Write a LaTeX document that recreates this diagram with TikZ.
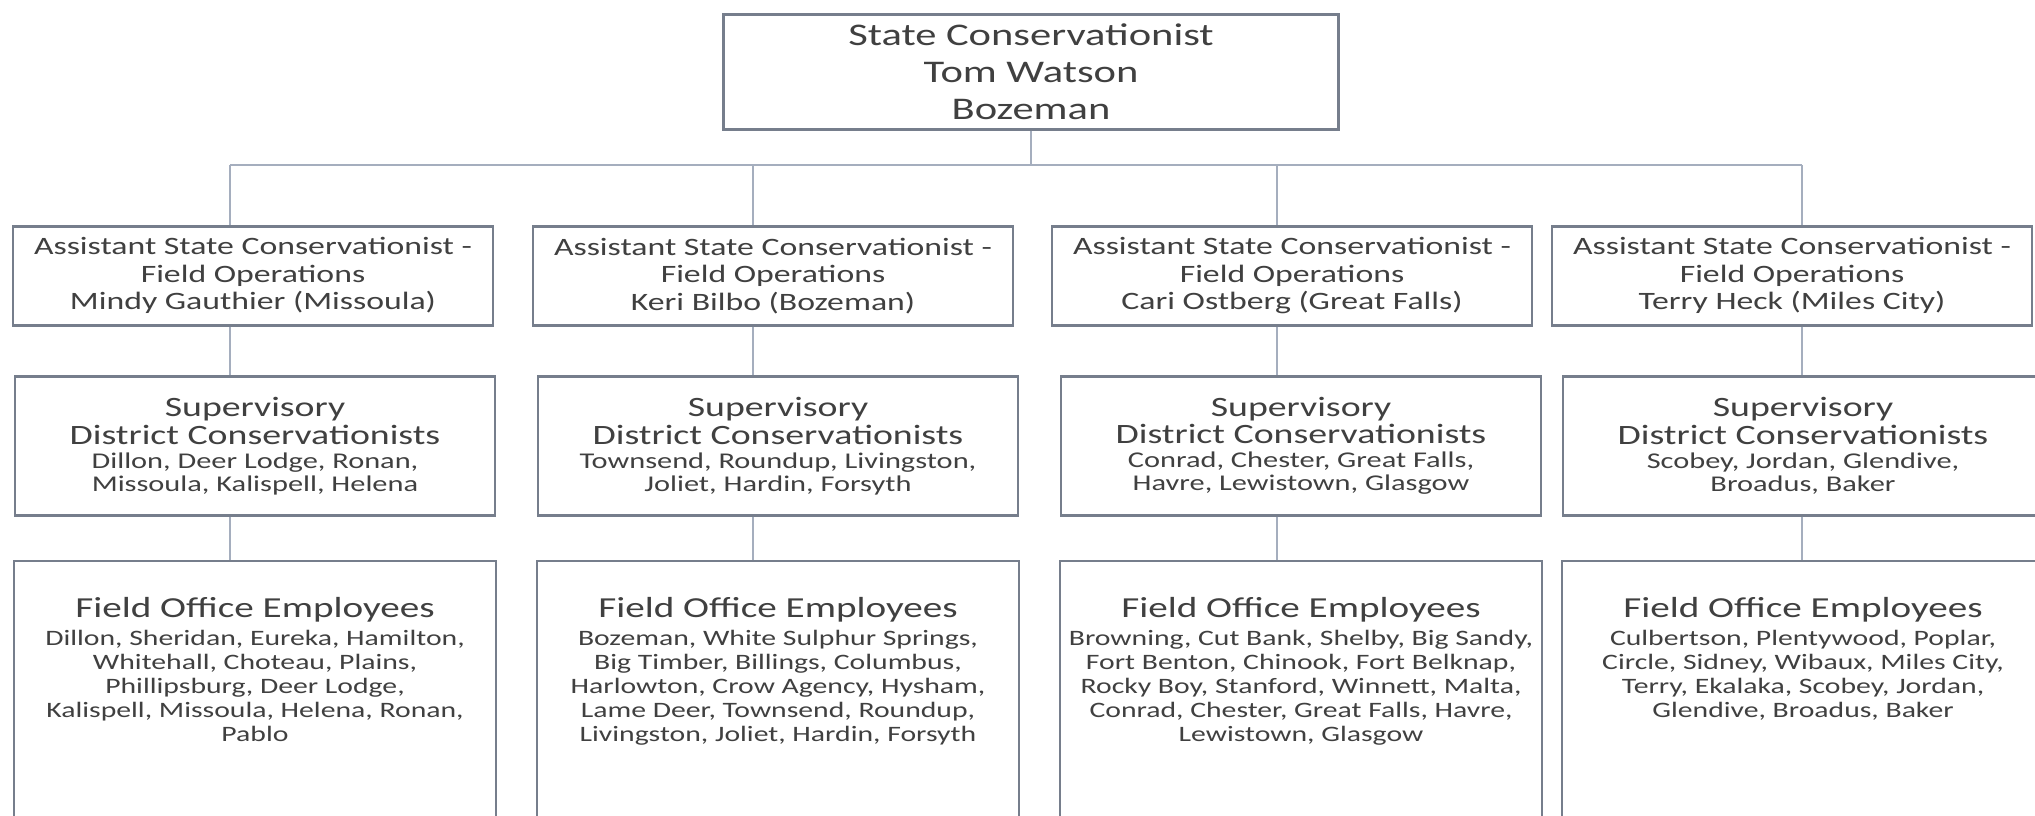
\documentclass[tikz,border=0pt]{standalone}
\usepackage{fontspec}
\setmainfont{Carlito}[FakeStretch=1.35]
\usetikzlibrary{positioning}

\definecolor{boxline}{RGB}{118,126,140}
\definecolor{linkline}{RGB}{165,174,190}
\definecolor{inktext}{RGB}{64,64,64}
\newcommand{\hdr}{\fontsize{28}{31}\selectfont}
\newcommand{\ohdr}{\fontsize{29}{31}\selectfont}
\newcommand{\townfont}{\fontsize{22}{24}\selectfont}
\newcommand{\openend}{\rule[-170pt]{0pt}{0pt}}

\begin{document}
\begin{tikzpicture}[x=1pt, y=-1pt,
                    line width=2.5pt,
                    node distance=43pt,
                    ]
    \tikzstyle{unit}=[rectangle, draw=boxline, fill=white, text=inktext, align=center, anchor=north, inner xsep=4pt]
    \tikzstyle{chief}=[unit, minimum width=615pt, minimum height=115pt, font=\fontsize{31.5}{37}\selectfont]
    \tikzstyle{assistant}=[unit, minimum width=480pt, minimum height=99pt, font=\fontsize{25}{27.5}\selectfont]
    \tikzstyle{supervisor}=[unit, minimum width=480pt, minimum height=139pt, font=\fontsize{22.5}{23}\selectfont]
    \tikzstyle{office}=[unit, minimum width=482pt, inner ysep=37pt, font=\townfont]
    \tikzstyle{link}=[draw=linkline, line width=2pt]

    \fill[white] (0,0) rectangle (2035,815);
    \clip (0,0) rectangle (2035,815);

    \node[chief] (sc) at (1031,13) {State Conservationist\\Tom Watson\\Bozeman};

    \node[assistant] (asa) at (253,225) {Assistant State Conservationist -\\Field Operations\\Mindy Gauthier (Missoula)};
    \node[assistant] (asb) at (773,225) {Assistant State Conservationist -\\Field Operations\\Keri Bilbo (Bozeman)};
    \node[assistant] (asc) at (1292,225) {Assistant State Conservationist -\\Field Operations\\Cari Ostberg (Great Falls)};
    \node[assistant] (asd) at (1792,225) {Assistant State Conservationist -\\Field Operations\\Terry Heck (Miles City)};

    \node[supervisor] (sda) at (255,375) {{\hdr Supervisory}\\[3pt]{\hdr District Conservationists}\\[1pt]
        Dillon, Deer Lodge, Ronan,\\Missoula, Kalispell, Helena};
    \node[supervisor] (sdb) at (778,375) {{\hdr Supervisory}\\[3pt]{\hdr District Conservationists}\\[1pt]
        Townsend, Roundup, Livingston,\\Joliet, Hardin, Forsyth};
    \node[supervisor] (sdc) at (1301,375) {{\hdr Supervisory}\\[3pt]{\hdr District Conservationists}\\[1pt]
        Conrad, Chester, Great Falls,\\Havre, Lewistown, Glasgow};
    \node[supervisor] (sdd) at (1803,375) {{\hdr Supervisory}\\[3pt]{\hdr District Conservationists}\\[1pt]
        Scobey, Jordan, Glendive,\\Broadus, Baker};

    \node[office, below=of sda] (foa) {{\ohdr Field Office Employees}\\[4pt]
        Dillon, Sheridan, Eureka, Hamilton,\\Whitehall, Choteau, Plains,\\Phillipsburg, Deer Lodge,\\
        Kalispell, Missoula, Helena, Ronan,\\Pablo\openend};
    \node[office, below=of sdb] (fob) {{\ohdr Field Office Employees}\\[4pt]
        Bozeman, White Sulphur Springs,\\Big Timber, Billings, Columbus,\\Harlowton, Crow Agency, Hysham,\\
        Lame Deer, Townsend, Roundup,\\Livingston, Joliet, Hardin, Forsyth\openend};
    \node[office, below=of sdc] (foc) {{\ohdr Field Office Employees}\\[4pt]
        Browning, Cut Bank, Shelby, Big Sandy,\\Fort Benton, Chinook, Fort Belknap,\\Rocky Boy, Stanford, Winnett, Malta,\\
        Conrad, Chester, Great Falls, Havre,\\Lewistown, Glasgow\openend};
    \node[office, below=of sdd] (fod) {{\ohdr Field Office Employees}\\[4pt]
        Culbertson, Plentywood, Poplar,\\Circle, Sidney, Wibaux, Miles City,\\Terry, Ekalaka, Scobey, Jordan,\\
        Glendive, Broadus, Baker\openend};

    % connectors
    \coordinate (ja) at (230,165);
    \coordinate (jb) at (753,165);
    \coordinate (jc) at (1277,165);
    \coordinate (jd) at (1802,165);
    \path[link] (ja) -- (jd);
    \path[link] (sc.south) -- (sc.south |- ja);
    \foreach \c in {a,b,c,d} {
        \path[link] (j\c) -- (j\c |- as\c.north);
        \path[link] (j\c |- as\c.south) -- (j\c |- sd\c.north);
        \path[link] (j\c |- sd\c.south) -- (j\c |- fo\c.north);
    }
\end{tikzpicture}
\end{document}
